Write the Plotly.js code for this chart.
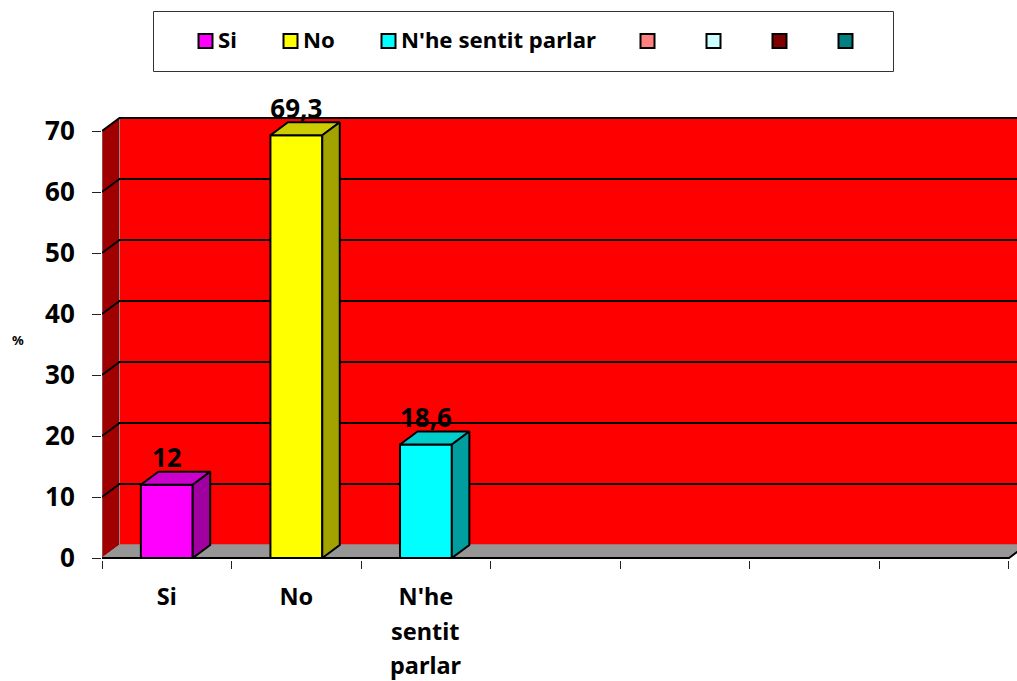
<!DOCTYPE html>
<html>
<head>
<meta charset="utf-8">
<script src="https://cdn.plot.ly/plotly-3.0.1.min.js"></script>
<style>html,body{margin:0;padding:0;background:#fff;overflow:hidden}</style>
</head>
<body>
<div id="chart" style="width:1017px;height:681px"></div>
<script>
// ---- data ----
const categories = ["Si", "No", "N'he sentit parlar"];
const values = [12, 69.3, 18.6];
const valueLabels = ["12", "69,3", "18,6"];
const axisLabels = ["Si", "No", "N'he"];
const extraLabelLines = ["sentit", "parlar"];
const frontColors = ["#FF00FF", "#FFFF00", "#00FFFF"];
const topColors = ["#CC00CC", "#CCCC00", "#00CCCC"];
const sideColors = ["#A000A0", "#A3A300", "#009E9E"];
const legendNames = ["Si", "No", "N'he sentit parlar", "", "", "", ""];
const legendColors = ["#FF00FF", "#FFFF00", "#00FFFF", "#FF8080", "#CCFFFF", "#800000", "#008080"];
const yTicks = [0, 10, 20, 30, 40, 50, 60, 70];
const slotEdges = [-0.5, 0.5, 1.5, 2.5, 3.5, 4.5, 5.5, 6.5];

// ---- style / geometry ----
const W = 1017, H = 681;
const left = 102, plotTop = 116, plotBottom = 560, zeroY = 558;
const slotPx = 129.57, unitPx = 6.1;
const dx = 17.5 / slotPx, dy = 13 / unitPx;
const barW = 0.4;
const labelDrop = 2 / unitPx;
const font = {family: "'Noto Sans', 'Open Sans', sans-serif", weight: 700, color: "#000"};
const F = (s) => Object.assign({}, font, {size: s});
const xEnd = slotEdges[slotEdges.length - 1];

// ---- walls, floor, grid (below traces) ----
const shapes = [];
const poly = (pts) => "M " + pts.map(p => p[0] + " " + p[1]).join(" L ");
const below = (path, fill, color, width) => shapes.push({
  type: "path", xref: "x", yref: "y", layer: "below", path: path,
  fillcolor: fill, line: {color: color, width: width}
});
// back wall
below(poly([[-0.5 + dx, dy], [-0.5 + dx, 70 + dy], [xEnd + dx, 70 + dy], [xEnd + dx, dy]]) + " Z", "#FF0000", "#8c8c8c", 1);
// side wall
below(poly([[-0.5, 0], [-0.5, 70], [-0.5 + dx, 70 + dy], [-0.5 + dx, dy]]) + " Z", "#A00000", "#8c8c8c", 1);
// floor
below(poly([[-0.5, 0], [-0.5 + dx, dy], [xEnd + dx, dy], [xEnd, 0]]) + " Z", "#969696", "#969696", 1);
// grid lines
yTicks.forEach(v => {
  if (v > 0) below(poly([[-0.5, v], [-0.5 + dx, v + dy], [xEnd + dx, v + dy]]), "rgba(0,0,0,0)", "#000", 2);
});
// front floor edge
below(poly([[-0.5, 0], [xEnd, 0], [xEnd + dx, dy]]), "rgba(0,0,0,0)", "#000", 2);

// legend frame and swatches
const legendSwatchX = [198, 283, 381, 640, 706, 772, 838];
const legendY = 41, sw = 13;
shapes.push({type: "rect", xref: "paper", yref: "paper",
  x0: (153.5 - left) / (W - left), x1: (893.5 - left) / (W - left),
  y0: (plotBottom - 71.5) / (plotBottom - plotTop), y1: (plotBottom - 11.5) / (plotBottom - plotTop),
  fillcolor: "#fff", line: {color: "#333", width: 1}});
legendColors.forEach((c, i) => {
  const x = legendSwatchX[i];
  shapes.push({type: "rect", xref: "paper", yref: "paper",
    x0: (x + 0.5 - left) / (W - left), x1: (x + 0.5 + sw + 1 - left) / (W - left),
    y0: (plotBottom - legendY - sw / 2 - 0.5) / (plotBottom - plotTop), y1: (plotBottom - legendY + sw / 2 + 0.5) / (plotBottom - plotTop),
    fillcolor: c, line: {color: "#000", width: 2}});
});

// ---- annotations ----
const annotations = [];
legendNames.forEach((n, i) => {
  if (!n) return;
  annotations.push({xref: "paper", yref: "paper",
    x: (legendSwatchX[i] + 18 - left) / (W - left),
    y: (plotBottom - legendY + 1) / (plotBottom - plotTop),
    xanchor: "left", yanchor: "middle", showarrow: false, text: n, font: F(22.2)});
});
const extraLabelY = [631, 665];
extraLabelLines.forEach((t, i) => {
  annotations.push({xref: "x", yref: "paper", x: 2, y: 0, yshift: plotBottom - extraLabelY[i],
    xanchor: "center", yanchor: "middle", showarrow: false, text: t, font: F(23.5)});
});
// horizontal axis unit
annotations.push({xref: "paper", yref: "paper", x: (18 - left) / (W - left),
  y: (plotBottom - 340) / (plotBottom - plotTop),
  xanchor: "center", yanchor: "middle", showarrow: false, text: "%", font: F(13)});

// ---- traces ----
const traces = [{
  type: "bar", x: categories.map((_, i) => i), y: values, width: barW, name: "bars",
  marker: {color: frontColors, line: {color: "#000", width: 2}}, hoverinfo: "skip"
}];
values.forEach((v, i) => {
  const l = i - barW / 2, r = i + barW / 2;
  traces.push({type: "scatter", mode: "lines", fill: "toself", fillcolor: topColors[i], hoverinfo: "skip",
    x: [l, l + dx, r + dx, r, l], y: [v, v + dy, v + dy, v, v], line: {color: "#000", width: 2}});
  traces.push({type: "scatter", mode: "lines", fill: "toself", fillcolor: sideColors[i], hoverinfo: "skip",
    x: [r, r + dx, r + dx, r, r], y: [v, v + dy, dy, 0, v], line: {color: "#000", width: 2}});
});
traces.push({type: "scatter", mode: "text", x: categories.map((_, i) => i), y: values.map(v => v + dy - labelDrop),
  text: valueLabels, textposition: "top center", textfont: F(26), cliponaxis: false, hoverinfo: "skip"});

// ---- layout ----
const layout = {
  width: W, height: H, showlegend: false, paper_bgcolor: "#fff", plot_bgcolor: "rgba(0,0,0,0)",
  margin: {l: left, r: 0, t: plotTop, b: H - plotBottom, pad: 0},
  bargap: 0.6, font: font,
  xaxis: {
    type: "linear", range: [-0.5, (W - left) / slotPx - 0.5], fixedrange: true,
    showgrid: false, zeroline: false, showline: false,
    tickmode: "array", tickvals: axisLabels.map((_, i) => i), ticktext: axisLabels,
    ticks: "", tickfont: F(23.5), ticklabelstandoff: 20,
    minor: {tickmode: "array", tickvals: slotEdges, ticks: "outside", ticklen: 8, tickwidth: 1, tickcolor: "#222", showgrid: false}
  },
  yaxis: {
    range: [(zeroY - plotBottom) / unitPx, (zeroY - plotTop) / unitPx], fixedrange: true,
    showgrid: false, zeroline: false, showline: false,
    tickmode: "array", tickvals: yTicks, ticktext: yTicks.map(String),
    ticks: "outside", ticklen: 9, tickwidth: 1, tickcolor: "#222", tickfont: F(26), ticklabelstandoff: 12
  },
  shapes: shapes, annotations: annotations
};
Plotly.newPlot("chart", traces, layout, {displayModeBar: false, staticPlot: true});
</script>
</body>
</html>
